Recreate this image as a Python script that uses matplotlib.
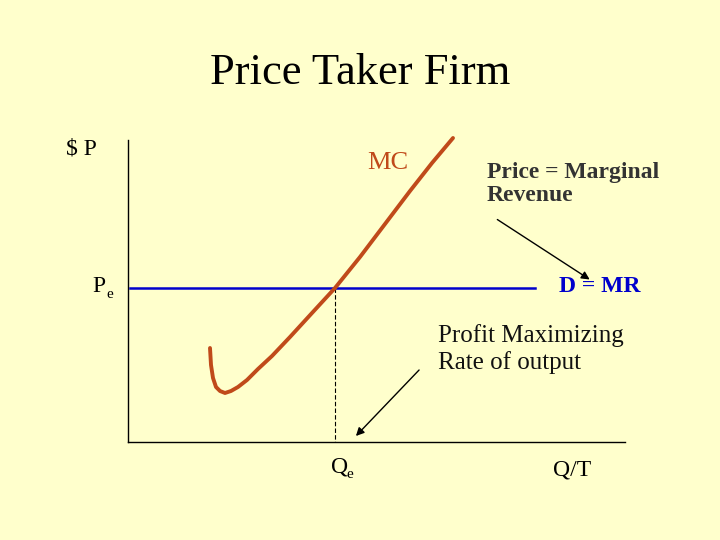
import matplotlib
matplotlib.use("Agg")
import matplotlib.pyplot as plt

# MC curve points (slide pixel units: x right, y down)
mc_x = [210, 211, 213, 216, 220, 225, 231, 238, 247, 258, 272, 290, 312, 335, 360, 385, 410, 432, 453]
mc_y = [348, 365, 378, 387, 391, 393, 391, 387, 380, 369, 356, 337, 313, 288, 257, 224, 191, 163, 138]
pe_y = 288
qe_x = 335
axis_origin = (128, 442)
axis_top = 140
axis_right = 625

fig = plt.figure(figsize=(7.2, 5.4), dpi=100)
fig.patch.set_facecolor("#FFFFCC")
ax = fig.add_axes([0, 0, 1, 1])
ax.set_xlim(0, 720); ax.set_ylim(540, 0); ax.axis("off")
ax.set_facecolor("#FFFFCC")
serif = "Liberation Serif"

ax.plot([axis_origin[0]]*2, [axis_top, axis_origin[1]], color="black", lw=1)
ax.plot([axis_origin[0], axis_right], [axis_origin[1]]*2, color="black", lw=1)
ax.plot([130, 535], [pe_y, pe_y], color="#0000CC", lw=1.8)
ax.plot([qe_x, qe_x], [pe_y, axis_origin[1]], color="black", lw=0.8, ls=(0, (4, 2)))
ax.plot(mc_x, mc_y, color="#C04A1A", lw=2.8, solid_capstyle="round")

ax.annotate("", xy=(592, 281), xytext=(495, 218),
            arrowprops=dict(arrowstyle="-|>", color="black", lw=1, mutation_scale=12))
ax.annotate("", xy=(354, 438), xytext=(421, 368),
            arrowprops=dict(arrowstyle="-|>", color="black", lw=1, mutation_scale=12))

ax.text(360, 73, "Price Taker Firm", fontsize=32, family=serif, ha="center", va="center")
ax.text(66, 149, "$ P", fontsize=17, family=serif, ha="left", va="center")
ax.text(388, 163, "MC", fontsize=19, family=serif, color="#C04A1A", ha="center", va="center")
ax.text(487, 184, "Price = Marginal\nRevenue", fontsize=17, family=serif, fontweight="bold",
        color="#333333", ha="left", va="center", linespacing=1.1)
ax.text(600, 287, "D = MR", fontsize=17, family=serif, fontweight="bold", color="#0000CC",
        ha="center", va="center")
ax.text(92, 287, "P", fontsize=17, family=serif, ha="left", va="center")
ax.text(106, 294, "e", fontsize=11, family=serif, ha="left", va="center")
ax.text(438, 349, "Profit Maximizing\nRate of output", fontsize=18, family=serif,
        color="#111111", ha="left", va="center", linespacing=1.25)
ax.text(331, 467, "Q", fontsize=17, family=serif, ha="left", va="center")
ax.text(346, 475, "e", fontsize=11, family=serif, ha="left", va="center")
ax.text(572, 470, "Q/T", fontsize=17, family=serif, ha="center", va="center")

fig.savefig("out.png", dpi=100, facecolor=fig.get_facecolor())
